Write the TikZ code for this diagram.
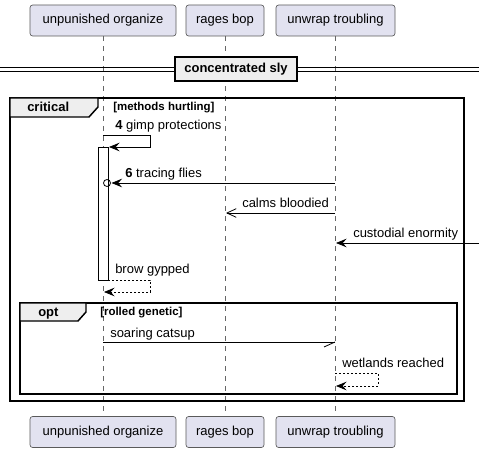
\documentclass[tikz,border=0pt]{standalone}
\usepackage{fontspec}
\setmainfont{Liberation Sans}
\usetikzlibrary{arrows.meta}
\definecolor{partfill}{HTML}{E2E2F0}
\definecolor{partdraw}{HTML}{5A5A5A}
\definecolor{tabfill}{HTML}{EEEEEE}
\definecolor{lifecol}{HTML}{666666}
\begin{document}
\begin{tikzpicture}[x=0.75pt,y=-0.75pt,
  every node/.style={font=\fontsize{9.75}{12}\selectfont},
  part/.style={draw=partdraw, fill=partfill, rounded corners=2pt, line width=0.5pt,
    minimum height=23.25pt, inner sep=0pt},
  lifeline/.style={draw=lifecol, line width=0.5pt, dash pattern=on 3.75pt off 3.75pt},
  frame/.style={draw=black, line width=1.1pt},
  tabbox/.style={draw=black, fill=tabfill, line width=1.1pt},
  lbl/.style={anchor=base west, inner sep=0pt},
  grouplbl/.style={anchor=base west, inner sep=0pt, font=\fontsize{8.6}{10}\selectfont\bfseries},
  tip/.style={-{Stealth[length=8pt,width=6.5pt,inset=3pt]}},
  msg/.style={draw=black, line width=0.6pt},
  ret/.style={draw=black, line width=0.6pt, dash pattern=on 1.5pt off 1.5pt},
  opentip/.style={-{Straight Barb[length=7pt,width=6.5pt]}},
  actbox/.style={draw=black, fill=white, line width=0.6pt}
]
\useasboundingbox (0,0) rectangle (479,453);
\fill[white] (0,0) rectangle (479,453);

% participants
\node[part, minimum width=109.5pt] (ot) at (103,20.5) {unpunished organize};
\node[part, minimum width=58.5pt] (rt) at (225,20.5) {rages bop};
\node[part, minimum width=89.25pt] (ut) at (335.5,20.5) {unwrap troubling};
\node[part, minimum width=109.5pt] (ob) at (103,432) {unpunished organize};
\node[part, minimum width=58.5pt] (rb) at (225,432) {rages bop};
\node[part, minimum width=89.25pt] (ub) at (335.5,432) {unwrap troubling};

% lifelines
\draw[lifeline] (ot.south) -- (ob.north);
\draw[lifeline] (rt.south) -- (rb.north);
\draw[lifeline] (ut.south) -- (ub.north);

% divider
\draw[line width=0.75pt] (0,68) -- (479,68);
\draw[line width=0.75pt] (0,72) -- (479,72);
\node[draw=black, fill=tabfill, line width=1.1pt, minimum width=91.5pt, minimum height=18pt,
  inner sep=0pt, font=\fontsize{9.75}{12}\selectfont\bfseries] (div) at (236,69) {concentrated sly};

% critical frame
\draw[frame] (10,98) rectangle (464,401);
\draw[tabbox] (10,98) -- (98,98) -- (98,107) -- (89,117) -- (10,117) -- cycle;
\node[lbl, font=\fontsize{9.75}{12}\selectfont\bfseries] (crit) at (27,112) {critical};
\node[grouplbl] (critg) at (113,111) {[methods hurtling]};

% activation
\node[actbox, minimum width=7.5pt, minimum height=99.75pt, inner sep=0pt, anchor=north west] (act) at (98,147) {};

% message 4: self
\coordinate (m4a) at (103,135);
\coordinate (m4b) at (150,135);
\coordinate (m4c) at (150,147);
\coordinate (m4d) at (109,147);
\draw[msg, tip] (m4a) -- (m4b) -- (m4c) -- (m4d);
\node[lbl] (m4t) at (115,130) {\textbf{4} gimp protections};

% message 6
\coordinate (m6a) at (335,183);
\coordinate (m6b) at (111.5,183);
\draw[msg, line width=0.6pt] (107,183) circle (3.5);
\draw[msg, tip] (m6a) -- (m6b);
\node[lbl] (m6t) at (125,178) {\textbf{6} tracing flies};

% calms bloodied
\coordinate (mca) at (335,213);
\coordinate (mcb) at (226,213);
\draw[msg, opentip] (mca) -- (mcb);
\node[lbl] (mct) at (242,208) {calms bloodied};

% custodial enormity
\coordinate (mea) at (479,243);
\coordinate (meb) at (336,243);
\draw[msg, tip] (mea) -- (meb);
\node[lbl] (met) at (353,238) {custodial enormity};

% brow gypped
\coordinate (mba) at (108,280);
\coordinate (mbb) at (150,280);
\coordinate (mbc) at (150,292);
\coordinate (mbd) at (104,292);
\draw[ret, tip] (mba) -- (mbb) -- (mbc) -- (mbd);
\node[lbl] (mbt) at (115,273) {brow gypped};

% opt frame
\draw[frame] (20,303) rectangle (457,394);
\draw[tabbox] (20,303) -- (86,303) -- (86,312) -- (78,321) -- (20,321) -- cycle;
\node[lbl, font=\fontsize{9.75}{12}\selectfont\bfseries] (optl) at (38,316) {opt};
\node[grouplbl] (optg) at (100,315) {[rolled genetic]};

% soaring catsup
\coordinate (msa) at (103,342);
\coordinate (msb) at (335,342);
\draw[msg] (msa) -- (msb);
\draw[msg] (msb) -- (324,347);
\node[lbl] (mst) at (110,337) {soaring catsup};

% wetlands reached
\coordinate (mwa) at (335,373);
\coordinate (mwb) at (378,373);
\coordinate (mwc) at (378,386);
\coordinate (mwd) at (336,386);
\draw[ret, tip] (mwa) -- (mwb) -- (mwc) -- (mwd);
\node[lbl] (mwt) at (342,367) {wetlands reached};
\end{tikzpicture}
\end{document}
